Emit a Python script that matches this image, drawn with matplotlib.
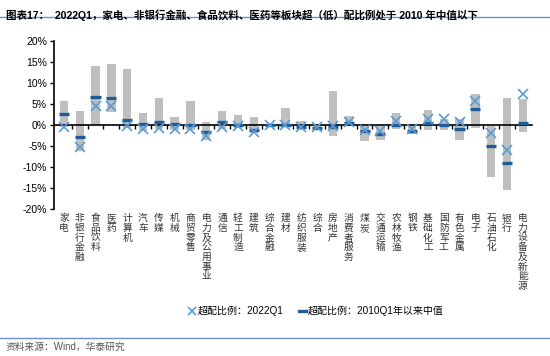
import matplotlib.pyplot as plt
import matplotlib.transforms as mtransforms
from matplotlib.lines import Line2D
import numpy as np

plt.rcParams['font.family'] = ['Liberation Sans', 'Noto Sans CJK SC']

# 行业
categories = ['家电', '非银行金融', '食品饮料', '医药', '计算机', '汽车', '传媒', '机械',
              '商贸零售', '电力及公用事业', '通信', '轻工制造', '建筑', '综合金融', '建材',
              '纺织服装', '综合', '房地产', '消费者服务', '煤炭', '交通运输', '农林牧渔',
              '钢铁', '基础化工', '国防军工', '有色金属', '电子', '石油石化', '银行',
              '电力设备及新能源']

# 2010Q1以来区间 (%)
range_hi = [5.7, 3.3, 14.1, 14.4, 13.4, 2.9, 6.3, 1.8, 5.6, 0.6, 3.4, 2.4, 2.0, 0.2, 4.0,
            1.0, 0.0, 8.2, 2.1, 0.0, -0.3, 2.8, 0.0, 3.5, 1.3, 1.4, 7.4, -0.3, 6.5, 6.2]
range_lo = [-0.5, -6.3, 0.0, 3.0, -0.8, -1.5, -0.9, -1.2, -1.2, -3.5, -0.9, -0.8, -2.0, -0.3, -0.5,
            -1.2, -1.2, -2.6, 0.0, -3.8, -3.6, -1.0, -2.1, -1.1, -1.2, -3.7, -0.8, -12.5, -15.5, -1.6]
# 中值
median = [2.5, -2.9, 6.7, 6.5, 1.2, 0.3, 0.7, 0.2, 0.0, -1.7, 0.6, 0.0, -1.2, 0.0, 0.0,
          -0.4, -0.7, -0.4, 0.4, -1.4, -2.1, 0.1, -1.4, 0.5, 0.0, -1.0, 3.8, -4.9, -9.1, 0.4]
# 2022Q1
q1_2022 = [-0.4, -5.2, 4.5, 4.4, -0.2, -0.9, -0.7, -1.0, -0.9, -2.7, -0.4, -0.2, -1.7, 0.0, 0.0,
           -0.4, -0.6, -0.3, 0.7, -1.3, -1.4, 1.0, -1.0, 1.3, 1.3, 0.8, 5.8, -2.0, -6.0, 7.4]

x = np.arange(len(categories))
hi = np.array(range_hi)
lo = np.array(range_lo)

fig = plt.figure(figsize=(5.5, 3.56), dpi=100)
ax = fig.add_axes([0.098, 0.413, 0.869, 0.472])

ax.bar(x, hi - lo, bottom=lo, width=0.53, color='#BFBFBF', zorder=1)
ax.hlines(median, x - 0.32, x + 0.32, color='#1F5C99', linewidth=2.4, zorder=3)
ax.plot(x, q1_2022, linestyle='none', marker='x', markersize=7.5, markeredgewidth=1.2,
        color='#5B9BD5', zorder=4)

ax.set_xlim(-0.63, len(categories) - 0.43)
ax.set_ylim(-20, 20)
ax.set_yticks(np.arange(-20, 21, 5))
ax.set_yticklabels([f'{v}%' for v in range(-20, 21, 5)], fontsize=7.5)
ax.tick_params(axis='y', direction='out', length=3, width=1, pad=2)

for s in ['top', 'right']:
    ax.spines[s].set_visible(False)
ax.spines['left'].set_linewidth(1.2)
ax.spines['bottom'].set_position(('data', 0))
ax.spines['bottom'].set_linewidth(1.2)
ax.spines['bottom'].set_zorder(2)
ax.set_xticks(x[:-1] + 0.5)
ax.set_xticklabels([])
ax.tick_params(axis='x', direction='out', length=3, width=1)

# 竖排行业名
trans = mtransforms.blended_transform_factory(ax.transData, ax.transAxes)
for xi, name in zip(x, categories):
    ax.text(xi, -0.025, '\n'.join(name), transform=trans, ha='center', va='top',
            fontsize=7, linespacing=0.96, color='#333333', family='Noto Sans CJK SC')

handles = [Line2D([], [], linestyle='none', marker='x', markersize=5.5, markeredgewidth=1.2,
                  color='#5B9BD5'),
           Line2D([], [], color='#1F5C99', linewidth=2.4)]
fig.legend(handles, ['超配比例：2022Q1', '超配比例：2010Q1年以来中值'],
           loc='center', bbox_to_anchor=(0.575, 0.126), ncol=2, frameon=False,
           fontsize=7.2, handlelength=0.7, handletextpad=0.2, columnspacing=1.6)

fig.text(0.01, 0.975, '图表17：  2022Q1，家电、非银行金融、食品饮料、医药等板块超（低）配比例处于 2010 年中值以下',
         ha='left', va='top', fontsize=7.6, fontweight='bold', color='#000000')
fig.add_artist(Line2D([0.0, 1.0], [0.953, 0.953], color='#6F8FC4', linewidth=1.0))
fig.add_artist(Line2D([0.0, 1.0], [0.05, 0.05], color='#6F8FC4', linewidth=1.0))
fig.text(0.01, 0.025, '资料来源：Wind，华泰研究', ha='left', va='center', fontsize=7,
         color='#555555')

fig.savefig('out.png', dpi=100)
